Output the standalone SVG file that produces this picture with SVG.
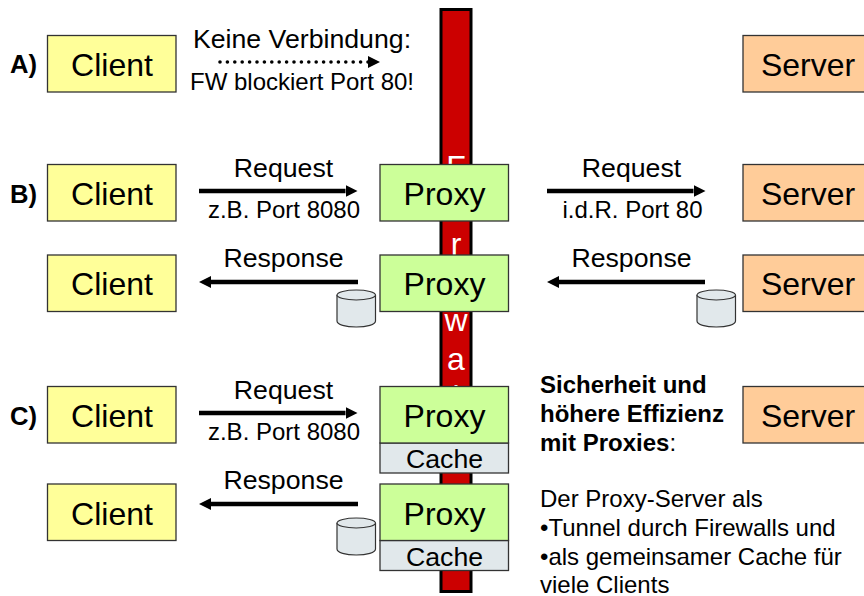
<svg xmlns="http://www.w3.org/2000/svg" width="864" height="596" viewBox="0 0 864 596">
<style>
text{font-family:"Liberation Sans",Arial,sans-serif;fill:#000}
.n{font-size:32px;text-anchor:middle}
.l{font-size:26.700px;text-anchor:middle}
.s{font-size:24px;text-anchor:middle}
.h{font-size:25.600px;font-weight:bold}
.t{font-size:24px}
.b{font-weight:bold}
.box{stroke:#333;stroke-width:1.3}
.c{fill:#ffff99}.p{fill:#ccff99}.v{fill:#ffcc99}.g{fill:#e1e8eb}
.fw{font-size:32px;text-anchor:middle;fill:#fff}
.w{stroke:#000;stroke-width:4.500;fill:none}
.cyl{fill:#e1e8eb;stroke:#333;stroke-width:1.2}
</style>
<defs>
<marker id="ah" markerUnits="userSpaceOnUse" markerWidth="12" markerHeight="12" refX="0" refY="6" orient="auto"><path d="M0 0L12 6L0 12Z" fill="#000"/></marker>
<g id="cyl"><path class="cyl" d="M0 6V32C0 35.500 8.500 38 19.250 38S38.500 35.500 38.500 32V6"/><ellipse class="cyl" cx="19.250" cy="6" rx="19.250" ry="5"/></g>
</defs>
<g id="firewall">
<rect x="441" y="9.500" width="30" height="582" fill="#cc0000" stroke="#000" stroke-width="3"/>
<text class="fw" x="456" y="178">F</text><text class="fw" x="456" y="216">i</text><text class="fw" x="456" y="255">r</text><text class="fw" x="456" y="293">e</text><text class="fw" x="456" y="331">w</text><text class="fw" x="456" y="370">a</text><text class="fw" x="456" y="408">l</text><text class="fw" x="456" y="447">l</text>
</g>
<g id="connectors">
<line x1="220" y1="62" x2="368" y2="62" stroke="#000" stroke-width="3.600" stroke-linecap="round" stroke-dasharray="0 7.400"/>
<path d="M368 56L380 62L368 68Z" fill="#000"/>
<line class="w" x1="199" y1="191" x2="345.500" y2="191" marker-end="url(#ah)"/>
<line class="w" x1="547" y1="191" x2="693.500" y2="191" marker-end="url(#ah)"/>
<line class="w" x1="358" y1="282" x2="211" y2="282" marker-end="url(#ah)"/>
<line class="w" x1="705" y1="282" x2="559" y2="282" marker-end="url(#ah)"/>
<line class="w" x1="199" y1="413" x2="345.500" y2="413" marker-end="url(#ah)"/>
<line class="w" x1="358" y1="504" x2="211" y2="504" marker-end="url(#ah)"/>
</g>
<g id="label-a"><text class="h" x="10" y="73">A)</text></g>
<g id="label-b"><text class="h" x="10" y="203">B)</text></g>
<g id="label-c"><text class="h" x="10" y="425">C)</text></g>
<g id="client-a"><rect class="box c" x="47.500" y="35.500" width="128.500" height="56.500"/><text class="n" x="112" y="76">Client</text></g>
<g id="client-b1"><rect class="box c" x="47.500" y="164.500" width="128.500" height="56.500"/><text class="n" x="112" y="205">Client</text></g>
<g id="client-b2"><rect class="box c" x="47.500" y="255" width="128.500" height="56.500"/><text class="n" x="112" y="295">Client</text></g>
<g id="client-c1"><rect class="box c" x="47.500" y="386.500" width="128.500" height="56.500"/><text class="n" x="112" y="427">Client</text></g>
<g id="client-c2"><rect class="box c" x="47.500" y="484" width="128.500" height="56.500"/><text class="n" x="112" y="525">Client</text></g>
<g id="proxy-b1"><rect class="box p" x="380" y="164.500" width="128.500" height="56.500"/><text class="n" x="444.500" y="205">Proxy</text></g>
<g id="proxy-b2"><rect class="box p" x="380" y="255" width="128.500" height="56.500"/><text class="n" x="444.500" y="295">Proxy</text></g>
<g id="proxy-c1"><rect class="box g" x="380" y="443" width="128.500" height="30"/><rect class="box p" x="380" y="386.500" width="128.500" height="56.500"/><text class="n" x="444.500" y="427">Proxy</text><text class="l" x="444.500" y="468">Cache</text></g>
<g id="proxy-c2"><rect class="box g" x="380" y="540.500" width="128.500" height="30"/><rect class="box p" x="380" y="484" width="128.500" height="56.500"/><text class="n" x="444.500" y="525">Proxy</text><text class="l" x="444.500" y="566">Cache</text></g>
<g id="server-a"><rect class="box v" x="743" y="35.500" width="130" height="56.500"/><text class="n" x="808" y="76">Server</text></g>
<g id="server-b1"><rect class="box v" x="743" y="164.500" width="130" height="56.500"/><text class="n" x="808" y="205">Server</text></g>
<g id="server-b2"><rect class="box v" x="743" y="255" width="130" height="56.500"/><text class="n" x="808" y="295">Server</text></g>
<g id="server-c"><rect class="box v" x="743" y="386.500" width="130" height="56.500"/><text class="n" x="808" y="427">Server</text></g>
<g id="cache-1"><use href="#cyl" x="337" y="289"/></g>
<g id="cache-2"><use href="#cyl" x="697" y="289"/></g>
<g id="cache-3"><use href="#cyl" x="337" y="517"/></g>
<g id="labels">
<text class="l" x="302" y="48">Keine Verbindung:</text>
<text class="s" x="302" y="90">FW blockiert Port 80!</text>
<text class="l" x="283.500" y="177">Request</text>
<text class="s" x="284" y="218">z.B. Port 8080</text>
<text class="l" x="631.500" y="177">Request</text>
<text class="s" x="632.500" y="218">i.d.R. Port 80</text>
<text class="l" x="283.500" y="267">Response</text>
<text class="l" x="631.500" y="267">Response</text>
<text class="l" x="283.500" y="399">Request</text>
<text class="s" x="284" y="440">z.B. Port 8080</text>
<text class="l" x="283.500" y="489">Response</text>
</g>
<g id="notes">
<text class="t b" x="540" y="393">Sicherheit und</text>
<text class="t b" x="540" y="421.500">höhere Effizienz</text>
<text class="t" x="540" y="450.500"><tspan class="b">mit Proxies</tspan>:</text>
<text class="t" x="540" y="507">Der Proxy-Server als</text>
<text class="t" x="540" y="536">•Tunnel durch Firewalls und</text>
<text class="t" x="540" y="564.500">•als gemeinsamer Cache für</text>
<text class="t" x="540" y="593">viele Clients</text>
</g>
</svg>
